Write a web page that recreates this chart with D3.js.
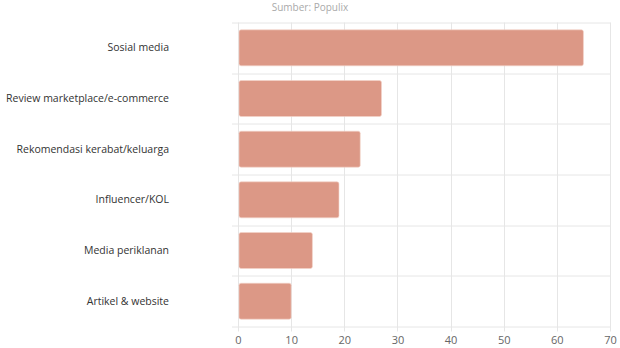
<!DOCTYPE html>
<html>
<head>
<meta charset="utf-8">
<script src="https://cdn.jsdelivr.net/npm/d3@7"></script>
<style>
  html, body { margin: 0; padding: 0; background: #fff; }
  svg { display: block; font-family: "Open Sans", "DejaVu Sans", sans-serif; }
</style>
</head>
<body>
<svg id="chart" width="620" height="348"></svg>
<script>
// Sumber informasi produk (persen responden)
const categories = [
  "Sosial media",
  "Review marketplace/e-commerce",
  "Rekomendasi kerabat/keluarga",
  "Influencer/KOL",
  "Media periklanan",
  "Artikel & website"
];
const values = [65, 27, 23, 19, 14, 10];
const xTicks = [0, 10, 20, 30, 40, 50, 60, 70];
const sourceNote = "Sumber: Populix";

const svg = d3.select("#chart");
const margin = { top: 22.5, right: 10, bottom: 21.5, left: 238 };
const W = 620, H = 348;
const innerH = H - margin.top - margin.bottom;

const x = d3.scaleLinear().domain([0, 70]).range([0, 372]);
const y = d3.scaleBand().domain(categories).range([0, innerH]).paddingInner(0.29).paddingOuter(0.145);
const yBands = d3.scaleBand().domain(categories).range([0, innerH]);

const g = svg.append("g").attr("transform", `translate(${margin.left},${margin.top})`);

// source note
svg.append("text")
  .attr("x", 310).attr("y", 10.5)
  .attr("text-anchor", "middle")
  .attr("font-size", 10)
  .attr("fill", "#aaa")
  .text(sourceNote);

// vertical grid lines with tick stubs below the axis
g.selectAll(".vgrid").data(xTicks).join("line")
  .attr("x1", d => Math.round(x(d)) + 0.5).attr("x2", d => Math.round(x(d)) + 0.5)
  .attr("y1", 0).attr("y2", innerH + 5)
  .attr("stroke", "#e6e6e6").attr("stroke-width", 1);

// horizontal lines at band boundaries
const bounds = categories.map(c => yBands(c)).concat([innerH]);
g.selectAll(".hgrid").data(bounds).join("line")
  .attr("x1", -6).attr("x2", x(70) + 0.5)
  .attr("y1", d => Math.round(d) + 0.5).attr("y2", d => Math.round(d) + 0.5)
  .attr("stroke", "#e6e6e6").attr("stroke-width", 1);

// bars
g.selectAll(".bar").data(values).join("rect")
  .attr("x", x(0) + 1)
  .attr("y", (d, i) => y(categories[i]))
  .attr("width", d => x(d) - x(0) - 1)
  .attr("height", y.bandwidth())
  .attr("rx", 2).attr("ry", 2)
  .attr("fill", "#dc9886")
  .attr("stroke", "#f3d3ca").attr("stroke-width", 0.6);

// x axis labels
const xAxis = d3.axisBottom(x).tickValues(xTicks).tickSize(0).tickPadding(10);
const xa = g.append("g").attr("transform", `translate(0,${innerH})`).call(xAxis);
xa.select(".domain").remove();
xa.selectAll("text")
  .attr("font-size", 11)
  .attr("fill", "#666")
  .attr("font-family", "\"Open Sans\", sans-serif");

// category labels
const yAxis = d3.axisLeft(yBands).tickSize(0).tickPadding(69);
const ya = g.append("g").call(yAxis);
ya.select(".domain").remove();
ya.selectAll("text")
  .attr("font-size", 10.5)
  .attr("fill", "#333")
  .attr("font-family", "\"Open Sans\", sans-serif");
</script>
</body>
</html>
